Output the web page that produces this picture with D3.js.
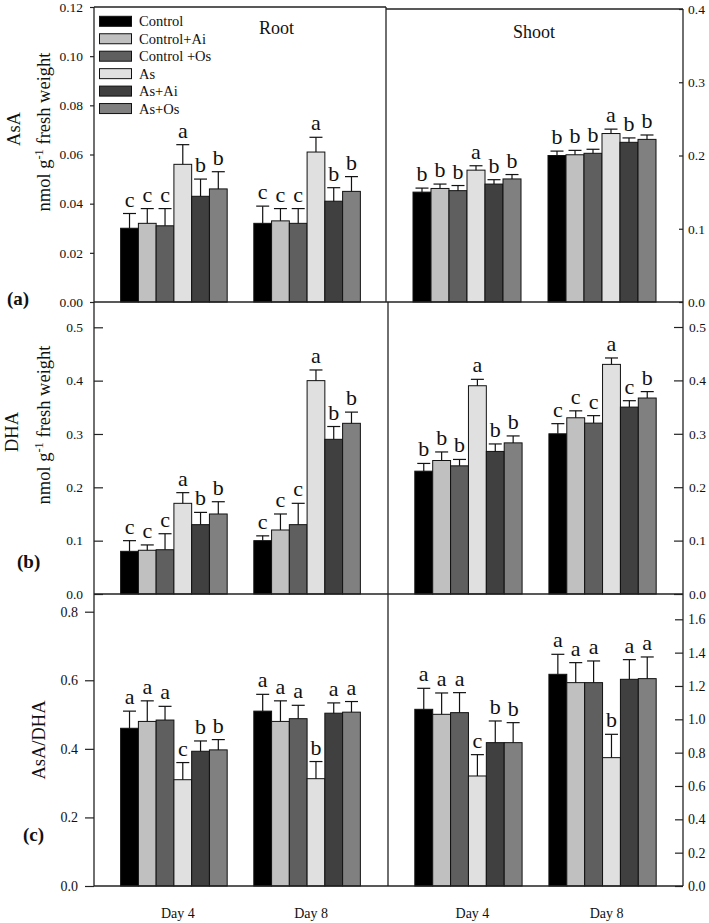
<!DOCTYPE html>
<html><head><meta charset="utf-8">
<script src="https://cdn.jsdelivr.net/npm/d3@7"></script>
<style>
body{margin:0;background:#fff;}
svg{display:block;font-family:"Liberation Serif","Times New Roman",serif;}
</style></head>
<body>
<svg id="chart" width="709" height="923"></svg>
<script>
const treatments = ["Control","Control+Ai","Control +Os","As","As+Ai","As+Os"];
const colors = ["#000000","#c0c0c0","#5f5f5f","#e0e0e0","#404040","#808080"];
const days = ["Day 4","Day 8"];

// (a) AsA
const asaRoot    = [[0.030,0.032,0.031,0.056,0.043,0.046],[0.032,0.033,0.032,0.061,0.041,0.045]];
const asaRootErr = [[0.006,0.006,0.007,0.008,0.007,0.007],[0.007,0.005,0.006,0.006,0.0055,0.006]];
const asaRootSig = [["c","c","c","a","b","b"],["c","c","c","a","b","b"]];
const asaShoot    = [[0.150,0.155,0.152,0.180,0.161,0.168],[0.200,0.201,0.203,0.230,0.218,0.222]];
const asaShootErr = [[0.0055,0.006,0.007,0.006,0.006,0.006],[0.006,0.006,0.0055,0.006,0.006,0.006]];
const asaShootSig = [["b","b","b","a","b","b"],["b","b","b","a","b","b"]];
// (b) DHA
const dhaRoot    = [[0.080,0.082,0.083,0.170,0.130,0.150],[0.100,0.120,0.130,0.400,0.290,0.320]];
const dhaRootErr = [[0.020,0.010,0.030,0.020,0.023,0.023],[0.009,0.030,0.040,0.020,0.024,0.021]];
const dhaRootSig = [["c","c","c","a","b","b"],["c","c","c","a","b","b"]];
const dhaShoot    = [[0.230,0.250,0.240,0.390,0.267,0.283],[0.300,0.330,0.320,0.430,0.350,0.367]];
const dhaShootErr = [[0.0145,0.016,0.012,0.012,0.014,0.013],[0.019,0.013,0.014,0.012,0.012,0.012]];
const dhaShootSig = [["b","b","b","a","b","b"],["c","c","c","a","c","b"]];
// (c) AsA/DHA
const ratioRoot    = [[0.46,0.48,0.484,0.31,0.393,0.397],[0.51,0.48,0.488,0.313,0.504,0.507]];
const ratioRootErr = [[0.05,0.06,0.04,0.05,0.03,0.03],[0.049,0.06,0.039,0.05,0.03,0.031]];
const ratioRootSig = [["a","a","a","c","b","b"],["a","a","a","b","a","a"]];
const ratioShoot    = [[1.06,1.03,1.04,0.66,0.86,0.86],[1.27,1.22,1.22,0.77,1.24,1.244]];
const ratioShootErr = [[0.126,0.128,0.12,0.128,0.13,0.12],[0.12,0.12,0.13,0.14,0.118,0.13]];
const ratioShootSig = [["a","a","a","c","b","b"],["a","a","a","b","a","a"]];

// tick labels
const ticksAsaRoot = [0,0.02,0.04,0.06,0.08,0.10,0.12];
const ticksAsaShoot = [0,0.1,0.2,0.3,0.4];
const ticksDha = [0,0.1,0.2,0.3,0.4,0.5];
const ticksRatioRoot = [0,0.2,0.4,0.6,0.8];
const ticksRatioShoot = [0,0.2,0.4,0.6,0.8,1.0,1.2,1.4,1.6];

const svg = d3.select("#chart");
const LX = 94, MXa = 386, MX = 388, RX = 683;
const stroke = "#222";
const FONT = '"Liberation Serif","Times New Roman",serif';

const xLeft = d3.scaleBand().domain(days).range([LX, 387]).paddingInner(0.2).paddingOuter(0.2);
const xRightA = d3.scaleBand().domain(days).range([MXa, RX]).paddingInner(0.2).paddingOuter(0.2);
const xRight = d3.scaleBand().domain(days).range([MX, RX]).paddingInner(0.2).paddingOuter(0.2);

function drawBars(x, y, vals, errs, sigs){
  const g = svg.append("g");
  days.forEach((d, di) => {
    const xi = d3.scaleBand().domain(treatments).range([x(d), x(d) + x.bandwidth()]);
    treatments.forEach((t, ti) => {
      const v = vals[di][ti], e = errs[di][ti];
      const bx = xi(t), bw = xi.bandwidth(), cx = bx + bw/2;
      g.append("rect").attr("x", bx).attr("y", y(v)).attr("width", bw).attr("height", y(0) - y(v))
        .attr("fill", colors[ti]).attr("stroke", "#111").attr("stroke-width", 1);
      g.append("line").attr("x1", cx).attr("x2", cx).attr("y1", y(v)).attr("y2", y(v + e))
        .attr("stroke", "#111").attr("stroke-width", 1.2);
      g.append("line").attr("x1", cx - 6.5).attr("x2", cx + 6.5).attr("y1", y(v + e)).attr("y2", y(v + e))
        .attr("stroke", "#111").attr("stroke-width", 1.2);
      g.append("text").attr("x", cx).attr("y", y(v + e) - 7).attr("text-anchor", "middle")
        .attr("font-size", 22).attr("fill", "#111").text(sigs[di][ti]);
    });
  });
}

function drawAxis(axis, xpos, values, fmt, size){
  const g = svg.append("g").attr("transform", `translate(${xpos},0)`)
    .call(axis.tickValues(values).tickFormat(d3.format(fmt)).tickSizeOuter(0));
  g.attr("font-family", FONT);
  g.select(".domain").remove();
  g.selectAll("line").attr("stroke", stroke).attr("stroke-width", 1.2);
  g.selectAll("text").attr("font-size", size).attr("font-family", FONT).attr("fill", "#111");
}

// scales
const yAR = d3.scaleLinear().domain([0, 0.12]).range([302, 7]);
const yAS = d3.scaleLinear().domain([0, 0.4]).range([302, 9]);
const yBR = d3.scaleLinear().domain([0, 0.5]).range([594, 327.3]);
const yBS = d3.scaleLinear().domain([0, 0.5]).range([594, 327]);
const yCR = d3.scaleLinear().domain([0, 0.8]).range([886, 611.7]);
const yCS = d3.scaleLinear().domain([0, 1.6]).range([886, 619.3]);

drawBars(xLeft, yAR, asaRoot, asaRootErr, asaRootSig);
drawBars(xRightA, yAS, asaShoot, asaShootErr, asaShootSig);
drawBars(xLeft, yBR, dhaRoot, dhaRootErr, dhaRootSig);
drawBars(xRight, yBS, dhaShoot, dhaShootErr, dhaShootSig);
drawBars(xLeft, yCR, ratioRoot, ratioRootErr, ratioRootSig);
drawBars(xRight, yCS, ratioShoot, ratioShootErr, ratioShootSig);

// axes
drawAxis(d3.axisLeft(yAR).tickSize(4).tickPadding(7), LX, ticksAsaRoot, ".2f", 13.5);
drawAxis(d3.axisRight(yAS).tickSize(-4).tickPadding(5), RX, ticksAsaShoot, ".1f", 13.5);
drawAxis(d3.axisLeft(yBR).tickSize(-9).tickPadding(11), LX, ticksDha, ".1f", 13.5);
drawAxis(d3.axisRight(yBS).tickSize(-9).tickPadding(6), RX, ticksDha, ".1f", 13.5);
drawAxis(d3.axisLeft(yCR).tickSize(9).tickPadding(7), LX, ticksRatioRoot, ".1f", 14);
drawAxis(d3.axisRight(yCS).tickSize(-8).tickPadding(5), RX, ticksRatioShoot, ".1f", 14);

// frame lines
const frame = [
  [LX, 7, MXa, 7], [MXa, 9, RX, 9], [MXa, 7, MXa, 302], [MX, 302, MX, 886],
  [LX, 7, LX, 886], [RX, 9, RX, 886],
  [LX, 302, RX, 302], [LX, 594, RX, 594], [LX, 886, RX, 886]
];
svg.append("g").selectAll("line").data(frame).join("line")
  .attr("x1", d => d[0]).attr("y1", d => d[1]).attr("x2", d => d[2]).attr("y2", d => d[3])
  .attr("stroke", stroke).attr("stroke-width", 1.3);

// legend
const lg = svg.append("g");
treatments.forEach((t, i) => {
  const cy = 21.3 + i * 17.45;
  lg.append("rect").attr("x", 99.5).attr("y", cy - 5).attr("width", 32).attr("height", 10)
    .attr("fill", colors[i]).attr("stroke", "#111").attr("stroke-width", 1);
  lg.append("text").attr("x", 139).attr("y", cy + 5).attr("font-size", 14.5).attr("fill", "#111").text(t);
});

// titles
svg.append("text").attr("x", 276.5).attr("y", 34).attr("text-anchor", "middle").attr("font-size", 18).attr("fill", "#111").text("Root");
svg.append("text").attr("x", 534).attr("y", 38).attr("text-anchor", "middle").attr("font-size", 18).attr("fill", "#111").text("Shoot");

// panel labels
[["(a)", 7, 305], ["(b)", 17, 568], ["(c)", 23, 841]].forEach(p => {
  svg.append("text").attr("x", p[1]).attr("y", p[2]).attr("font-size", 19).attr("font-weight", "bold").attr("fill", "#111").text(p[0]);
});

// y-axis titles
function unitTitle(xb, cy){
  const t = svg.append("text").attr("transform", `translate(${xb},${cy}) rotate(-90)`)
    .attr("text-anchor", "middle").attr("font-size", 18.5).attr("fill", "#111");
  t.append("tspan").text("nmol g");
  t.append("tspan").attr("dy", -7).attr("font-size", 12.5).text("-1");
  t.append("tspan").attr("dy", 7).text(" fresh weight");
}
function simpleTitle(txt, xb, cy){
  svg.append("text").attr("transform", `translate(${xb},${cy}) rotate(-90)`)
    .attr("text-anchor", "middle").attr("font-size", 18.5).attr("fill", "#111").text(txt);
}
simpleTitle("AsA", 20, 129);
unitTitle(50, 132);
simpleTitle("DHA", 18, 432);
unitTitle(50, 425);
simpleTitle("AsA/DHA", 45, 740);

// x labels
[xLeft, xRight].forEach(x => {
  days.forEach(d => {
    svg.append("text").attr("x", x(d) + x.bandwidth()/2 + 4).attr("y", 918).attr("text-anchor", "middle")
      .attr("font-size", 14).attr("fill", "#111").text(d);
  });
});
</script>
</body></html>
